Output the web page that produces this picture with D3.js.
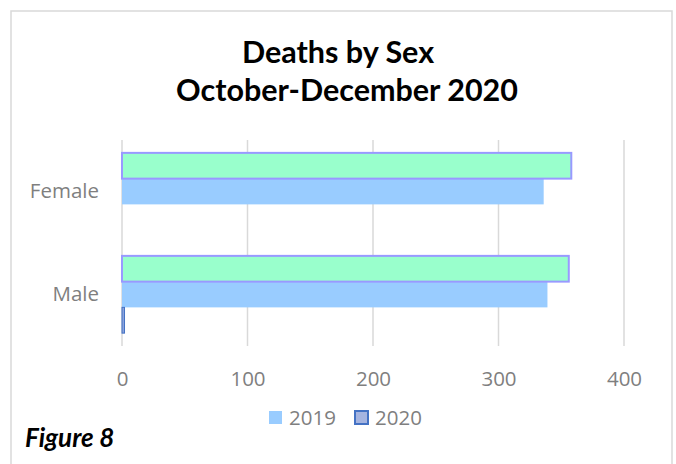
<!DOCTYPE html>
<html>
<head>
<meta charset="utf-8">
<script src="https://cdn.jsdelivr.net/npm/d3@7"></script>
<style>
  body { margin: 0; background: #fff; }
  .title, .caption { font-family: Lato, sans-serif; }
  .lbl { font-family: "Open Sans", sans-serif; }
</style>
</head>
<body>
<div id="chart"></div>
<script>
// chart data
var categories = ["Female", "Male"];
var seriesKeys = ["total", "2019", "2020"]; // top to bottom within a category
var totalValues = [358, 356];
var values2019 = [336, 339];
var values2020 = [0, 2];
var xTicks = [0, 100, 200, 300, 400];
var legendLabels = ["2019", "2020"];

var width = 676;
var height = 464;

var svg = d3.select("#chart")
    .append("svg")
    .attr("width", width)
    .attr("height", height);

// outer frame
svg.append("rect")
    .attr("x", 11)
    .attr("y", 11)
    .attr("width", 661)
    .attr("height", 480)
    .attr("fill", "#fff")
    .attr("stroke", "#d9d9d9")
    .attr("stroke-width", 1.5);

// title
var title = svg.append("text")
    .attr("class", "title")
    .attr("text-anchor", "middle")
    .attr("font-weight", "bold")
    .attr("font-size", 30.5)
    .attr("fill", "#000");
title.append("tspan").attr("x", 338).attr("y", 63).text("Deaths by Sex");
title.append("tspan").attr("x", 347).attr("y", 101).text("October-December 2020");

var x = d3.scaleLinear().domain([0, 400]).range([122, 624]);
var y = d3.scaleBand().domain(categories).range([140, 346]);
var ySub = d3.scaleBand().domain(seriesKeys).range([0, y.bandwidth()])
    .paddingInner(0).paddingOuter(0.5);

// gridlines
svg.append("g")
    .selectAll("line")
    .data(xTicks)
    .join("line")
    .attr("x1", d => x(d))
    .attr("x2", d => x(d))
    .attr("y1", 140)
    .attr("y2", 346)
    .attr("stroke", "#d9d9d9")
    .attr("stroke-width", 1.5);

// x axis labels
var xAxis = svg.append("g")
    .attr("transform", "translate(0,346)")
    .call(d3.axisBottom(x).tickValues(xTicks).tickSize(0).tickPadding(25));
xAxis.select(".domain").remove();
xAxis.attr("font-family", null).attr("font-size", null);
xAxis.selectAll("text")
    .attr("class", "lbl")
    .attr("font-size", 20.5)
    .attr("fill", "#7f7f7f");

// y axis labels
var yAxis = svg.append("g")
    .attr("transform", "translate(122,0)")
    .call(d3.axisLeft(y).tickSize(0).tickPadding(23));
yAxis.select(".domain").remove();
yAxis.attr("font-family", null).attr("font-size", null);
yAxis.selectAll("text")
    .attr("class", "lbl")
    .attr("font-size", 20.5)
    .attr("fill", "#7f7f7f");

function barRows(vals, key) {
    return categories.map((c, i) => ({ cat: c, key: key, value: vals[i] }));
}

// 2019 bars
svg.append("g")
    .selectAll("rect")
    .data(barRows(values2019, "2019"))
    .join("rect")
    .attr("x", x(0))
    .attr("y", d => y(d.cat) + ySub(d.key))
    .attr("width", d => x(d.value) - x(0))
    .attr("height", ySub.bandwidth())
    .attr("fill", "#99ccff");

// 2020 bars
svg.append("g")
    .selectAll("rect")
    .data(barRows(values2020, "2020").filter(d => d.value > 0))
    .join("rect")
    .attr("x", x(0))
    .attr("y", d => y(d.cat) + ySub(d.key))
    .attr("width", d => x(d.value) - x(0))
    .attr("height", ySub.bandwidth())
    .attr("fill", "#8aa2dc")
    .attr("stroke", "#4472c4")
    .attr("stroke-width", 1);

// green bars with purple outline
svg.append("g")
    .selectAll("rect")
    .data(barRows(totalValues, "total"))
    .join("rect")
    .attr("x", x(0))
    .attr("y", d => y(d.cat) + ySub(d.key))
    .attr("width", d => x(d.value) - x(0))
    .attr("height", ySub.bandwidth())
    .attr("fill", "#99ffcc")
    .attr("stroke", "#9999ff")
    .attr("stroke-width", 2);

// legend
var legend = svg.append("g");
legend.append("rect")
    .attr("x", 269).attr("y", 411)
    .attr("width", 13).attr("height", 13)
    .attr("fill", "#99ccff");
legend.append("rect")
    .attr("x", 355).attr("y", 411)
    .attr("width", 13).attr("height", 13)
    .attr("fill", "#a5b4e0")
    .attr("stroke", "#4472c4")
    .attr("stroke-width", 2);
legend.selectAll("text.lbl")
    .data(legendLabels)
    .join("text")
    .attr("class", "lbl")
    .attr("x", (d, i) => i === 0 ? 289 : 375)
    .attr("y", 425)
    .attr("font-size", 20.5)
    .attr("fill", "#7f7f7f")
    .text(d => d);

// figure caption
svg.append("text")
    .attr("class", "caption")
    .attr("x", 25)
    .attr("y", 447)
    .attr("font-size", 26)
    .attr("font-weight", "bold")
    .attr("font-style", "italic")
    .attr("fill", "#000")
    .text("Figure 8");
</script>
</body>
</html>
